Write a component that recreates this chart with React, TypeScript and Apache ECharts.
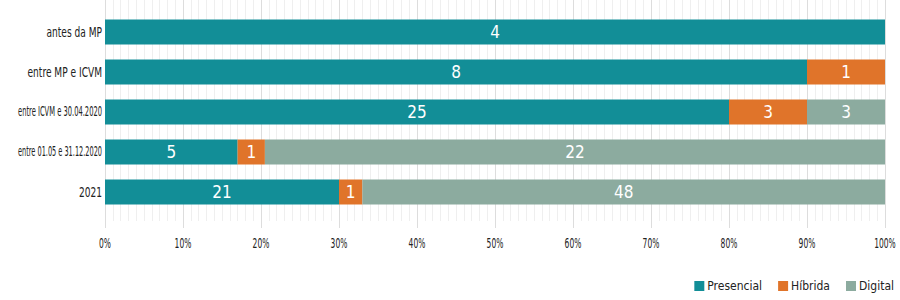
import React, { useEffect, useRef } from "react";
import * as echarts from "echarts";

const categories = [
  "antes da MP",
  "entre MP e ICVM",
  "entre ICVM e 30.04.2020",
  "entre 01.05 e 31.12.2020",
  "2021",
];
// counts shown as labels
const presencialCount = [4, 8, 25, 5, 21];
const hibridaCount = [0, 1, 3, 1, 1];
const digitalCount = [0, 0, 3, 22, 48];
// shares (%) as drawn in the reference
const presencialShare = [100, 90, 80, 17, 30];
const hibridaShare = [0, 10, 10, 3.5, 3];
const digitalShare = [0, 0, 10, 79.5, 67];
// x axis tick labels
const xTicks = [0, 10, 20, 30, 40, 50, 60, 70, 80, 90, 100];

const seriesNames = ["Presencial", "Híbrida", "Digital"];
const colors = ["#128e97", "#e0742a", "#8cab9f"];

const FONT = "'DejaVu Sans Condensed', 'Liberation Sans Narrow', sans-serif";
const GRID_LEFT = 105;

function measure(text: string, font: string) {
  const c = document.createElement("canvas").getContext("2d");
  if (!c) return text.length * 7;
  c.font = font;
  return c.measureText(text).width;
}

export default function App() {
  const ref = useRef<HTMLDivElement>(null);
  useEffect(() => {
    if (!ref.current) return;
    const chart = echarts.init(ref.current, null, { renderer: "svg" });
    const shares = [presencialShare, hibridaShare, digitalShare];
    const counts = [presencialCount, hibridaCount, digitalCount];
    const series: any[] = seriesNames.map((name, si) => ({
      name,
      type: "bar",
      stack: "total",
      xAxisIndex: 1,
      yAxisIndex: 1,
      barWidth: 25,
      itemStyle: { color: colors[si] },
      label: {
        show: true,
        position: "inside",
        color: "#ffffff",
        fontFamily: FONT,
        fontSize: 17,
        formatter: (p: any) => (counts[si][p.dataIndex] ? String(counts[si][p.dataIndex]) : ""),
      },
      data: shares[si].map((v) => (v ? v : null)),
    }));
    chart.setOption({
      animation: false,
      textStyle: { fontFamily: FONT },
      legend: {
        data: seriesNames,
        right: 1,
        bottom: 3,
        itemWidth: 10,
        itemHeight: 10,
        itemGap: 16,
        icon: "rect",
        textStyle: { fontFamily: FONT, fontSize: 12, color: "#222", padding: [0, 0, 0, -2] },
      },
      grid: [
        { left: GRID_LEFT, right: 15, top: 0, height: 221, outerBoundsMode: "none", containLabel: false },
        { left: GRID_LEFT, right: 15, top: 12, height: 200, outerBoundsMode: "none", containLabel: false },
      ],
      xAxis: [
        {
          gridIndex: 0,
          type: "value",
          min: 0,
          max: 100,
          interval: 10,
          axisLine: { show: false },
          axisTick: { show: true, length: 7, lineStyle: { color: "#dddddd" } },
          splitLine: { show: true, lineStyle: { color: "#dddddd", width: 1 } },
          minorSplitLine: { show: true, lineStyle: { color: "#efefef", width: 1 } },
          minorTick: { show: false, splitNumber: 10 },
          axisLabel: { show: false },
        },
        {
          gridIndex: 1,
          type: "value",
          min: 0,
          max: 100,
          show: false,
        },
      ],
      yAxis: [
        { gridIndex: 0, type: "value", show: false, min: 0, max: 1 },
        {
          gridIndex: 1,
          type: "category",
          data: categories,
          inverse: true,
          axisLine: { show: false },
          axisTick: { show: false },
          splitLine: { show: false },
          axisLabel: { show: false },
        },
      ],
      series,
    });
    // condensed category labels placed via the category axis
    const fontSize = 14;
    const fontStr = `${fontSize}px ${FONT}`;
    const catLabels = categories.map((cat) => {
      const y = chart.convertToPixel({ yAxisIndex: 1 }, cat) as number;
      const w = measure(cat, fontStr);
      const sx = Math.min(0.72, 84 / w);
      return {
        type: "text",
        x: GRID_LEFT - 3,
        y,
        scaleX: sx,
        silent: true,
        style: {
          text: cat,
          x: 0,
          y: 0,
          align: "right",
          verticalAlign: "middle",
          fontFamily: FONT,
          fontSize,
          fill: "#222",
        },
      };
    });
    const tickLabels = xTicks.map((t) => {
      const x = chart.convertToPixel({ xAxisIndex: 0 }, t) as number;
      return {
        type: "text",
        x,
        y: 243,
        scaleX: 0.6,
        silent: true,
        style: {
          text: `${t}%`,
          x: 0,
          y: 0,
          align: "center",
          verticalAlign: "middle",
          fontFamily: FONT,
          fontSize: 14,
          fill: "#222",
        },
      };
    });
    chart.setOption({ graphic: [...catLabels, ...tickLabels] });
    return () => chart.dispose();
  }, []);
  return (
    <div
      ref={ref}
      style={{ position: "absolute", left: 0, top: 0, width: 900, height: 300 }}
    />
  );
}
